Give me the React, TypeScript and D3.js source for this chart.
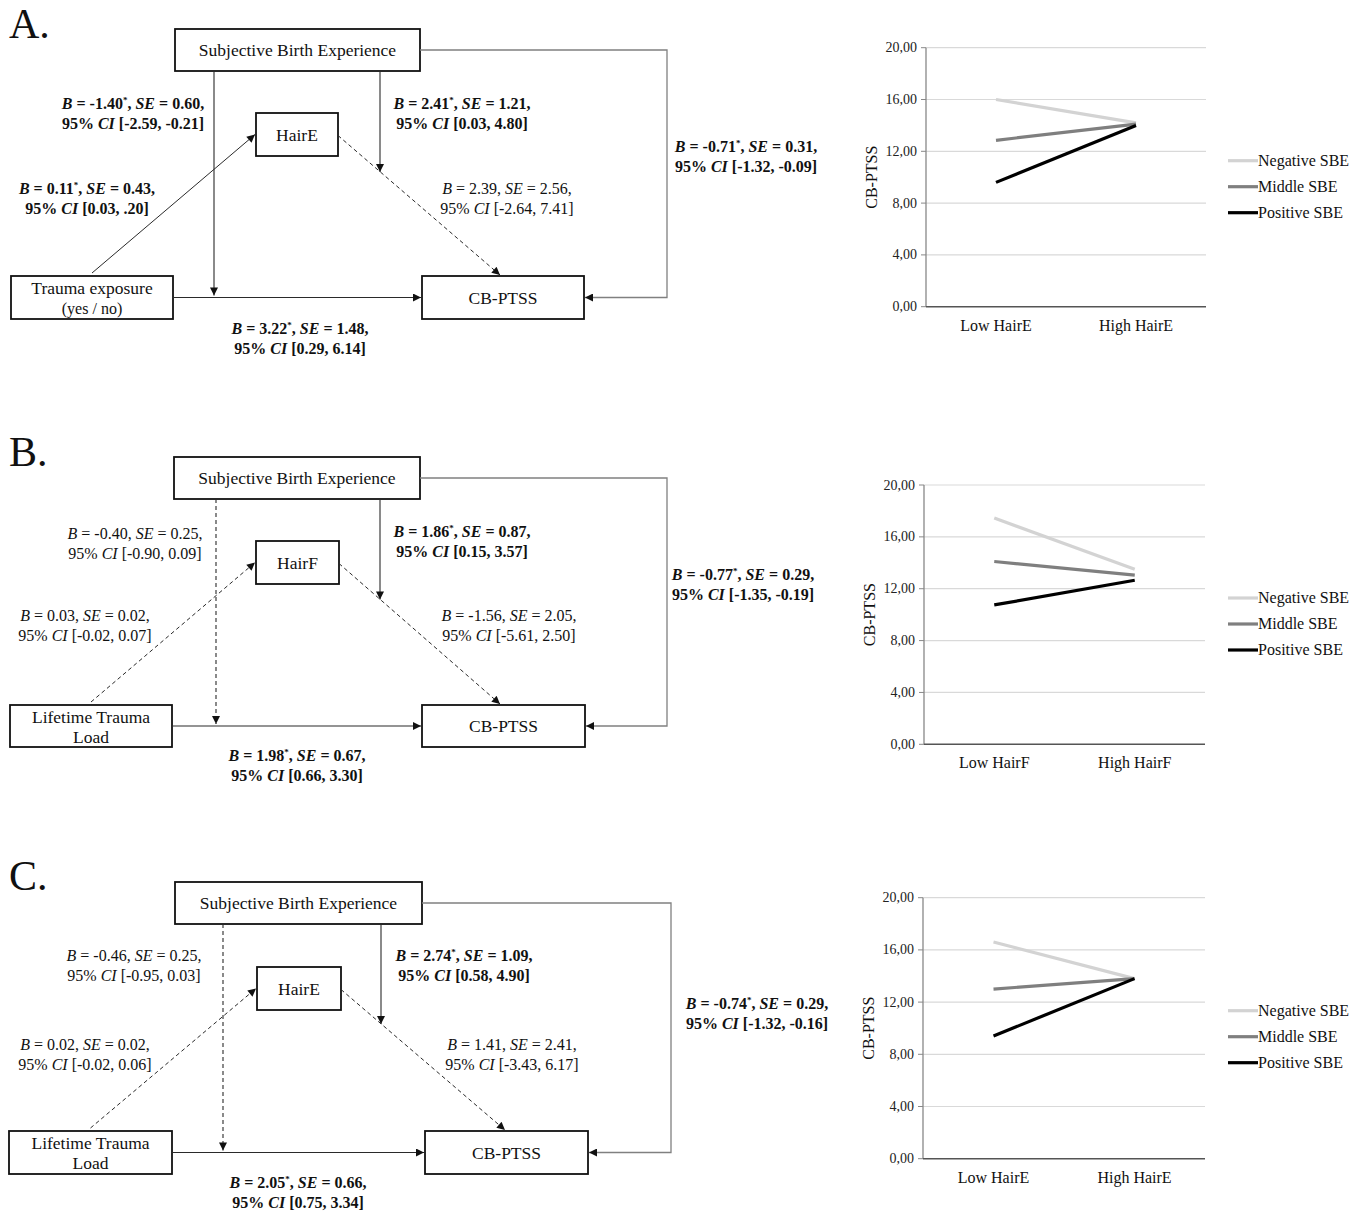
import * as d3 from 'd3';

// ---- chart data ----
const seriesNames = ['Negative SBE', 'Middle SBE', 'Positive SBE'];
const seriesColors = ['#d3d3d3', '#7f7f7f', '#000000'];
const yTicks = [0, 4, 8, 12, 16, 20];

const categoriesA = ['Low HairE', 'High HairE'];
const categoriesB = ['Low HairF', 'High HairF'];
const categoriesC = ['Low HairE', 'High HairE'];

const valuesA = [[16.0, 14.2], [12.85, 14.1], [9.6, 14.0]];
const valuesB = [[17.45, 13.5], [14.1, 13.05], [10.75, 12.65]];
const valuesC = [[16.6, 13.8], [13.0, 13.8], [9.4, 13.8]];

// ---- diagram texts ----
const mediatorNames = ['HairE', 'HairF', 'HairE'];
const predictorNames = [['Trauma exposure', '(yes / no)'], ['Lifetime Trauma', 'Load'], ['Lifetime Trauma', 'Load']];

// order: moderation on c (left), moderation on b, a path, b path, direct SBE, c path
const labelsA = [
  { b: '-1.40', sig: true, se: '0.60', ci: '[-2.59, -0.21]' },
  { b: '2.41', sig: true, se: '1.21', ci: '[0.03, 4.80]' },
  { b: '0.11', sig: true, se: '0.43', ci: '[0.03, .20]' },
  { b: '2.39', sig: false, se: '2.56', ci: '[-2.64, 7.41]' },
  { b: '-0.71', sig: true, se: '0.31', ci: '[-1.32, -0.09]' },
  { b: '3.22', sig: true, se: '1.48', ci: '[0.29, 6.14]' },
];
const labelsB = [
  { b: '-0.40', sig: false, se: '0.25', ci: '[-0.90, 0.09]' },
  { b: '1.86', sig: true, se: '0.87', ci: '[0.15, 3.57]' },
  { b: '0.03', sig: false, se: '0.02', ci: '[-0.02, 0.07]' },
  { b: '-1.56', sig: false, se: '2.05', ci: '[-5.61, 2.50]' },
  { b: '-0.77', sig: true, se: '0.29', ci: '[-1.35, -0.19]' },
  { b: '1.98', sig: true, se: '0.67', ci: '[0.66, 3.30]' },
];
const labelsC = [
  { b: '-0.46', sig: false, se: '0.25', ci: '[-0.95, 0.03]' },
  { b: '2.74', sig: true, se: '1.09', ci: '[0.58, 4.90]' },
  { b: '0.02', sig: false, se: '0.02', ci: '[-0.02, 0.06]' },
  { b: '1.41', sig: false, se: '2.41', ci: '[-3.43, 6.17]' },
  { b: '-0.74', sig: true, se: '0.29', ci: '[-1.32, -0.16]' },
  { b: '2.05', sig: true, se: '0.66', ci: '[0.75, 3.34]' },
];

const FONT = '"Liberation Serif", "Times New Roman", serif';

type Box = [number, number, number, number];

const layouts = [
  {
    letter: 'A.', letterY: 38,
    sbe: [175, 29, 245, 42] as Box, med: [256, 113, 82, 43] as Box,
    xb: [11, 276, 162, 43] as Box, yb: [422, 276, 162, 43] as Box,
    routeX: 667, leftV: 214, rightV: 380, bTarget: 500,
    dashLeft: false, dashA: false,
    labelPos: [[133, 109], [462, 109], [87, 194], [507, 194], [746, 152], [300, 334]],
  },
  {
    letter: 'B.', letterY: 466,
    sbe: [174, 457, 246, 42] as Box, med: [256, 541, 83, 43] as Box,
    xb: [10, 705, 162, 42] as Box, yb: [422, 705, 163, 42] as Box,
    routeX: 667, leftV: 216, rightV: 380, bTarget: 500,
    dashLeft: true, dashA: true,
    labelPos: [[135, 539], [462, 537], [85, 621], [509, 621], [743, 580], [297, 761]],
  },
  {
    letter: 'C.', letterY: 890,
    sbe: [175, 882, 247, 42] as Box, med: [257, 967, 84, 43] as Box,
    xb: [9, 1131, 163, 43] as Box, yb: [425, 1131, 163, 43] as Box,
    routeX: 671, leftV: 223, rightV: 381, bTarget: 505,
    dashLeft: true, dashA: true,
    labelPos: [[134, 961], [464, 961], [85, 1050], [512, 1050], [757, 1009], [298, 1188]],
  },
];

const chartLayouts = [
  { x0: 926, x1: 1206, top: 47.7, bottom: 306.7 },
  { x0: 924, x1: 1205, top: 485, bottom: 744.3 },
  { x0: 923, x1: 1205, top: 897.7, bottom: 1158.7 },
];

const PathLabel = ({ l, cx, y, bold }: any) => (
  <text x={cx} y={y} textAnchor="middle" fontSize={16} fontWeight={bold ? 'bold' : 'normal'} fontFamily={FONT} fill="#111">
    <tspan x={cx} y={y}>
      <tspan fontStyle="italic">B</tspan>
      {` = ${l.b}`}
      {l.sig ? <tspan dy={-6} fontSize={9}>*</tspan> : null}
      <tspan dy={l.sig ? 6 : 0}>{', '}</tspan>
      <tspan fontStyle="italic">SE</tspan>
      {` = ${l.se},`}
    </tspan>
    <tspan x={cx} y={y + 20}>
      {'95% '}
      <tspan fontStyle="italic">CI</tspan>
      {` ${l.ci}`}
    </tspan>
  </text>
);

const Diagram = ({ lay, labels, mediator, predictor }: any) => {
  const { sbe, med, xb, yb } = lay;
  const cyX = xb[1] + xb[3] / 2;
  const cyY = yb[1] + yb[3] / 2;
  const medCy = med[1] + med[3] / 2;
  const sbeCy = sbe[1] + sbe[3] / 2;
  const sbeBottom = sbe[1] + sbe[3];
  // b path endpoints
  const bx1 = med[0] + med[2], by1 = medCy + 1, bx2 = lay.bTarget, by2 = yb[1];
  const t = (lay.rightV - bx1) / (bx2 - bx1);
  const rightVEnd = by1 + t * (by2 - by1);
  const ax1 = xb[0] + xb[2] / 2, ay1 = xb[1] - 3;
  const stroke = '#2a2a2a';
  const boxText = (b: Box, txt: string) => (
    <text x={b[0] + b[2] / 2} y={b[1] + b[3] / 2 + 6} textAnchor="middle" fontSize={17.5} fontFamily={FONT} fill="#111">{txt}</text>
  );
  const small = predictor[1].startsWith('(');
  return (
    <g>
      <text x={9} y={lay.letterY} fontSize={42} fontFamily={FONT} fill="#111">{lay.letter}</text>
      {[sbe, med, xb, yb].map((b: Box, i: number) => (
        <rect key={i} x={b[0]} y={b[1]} width={b[2]} height={b[3]} fill="white" stroke="#111" strokeWidth={1.8} />
      ))}
      {boxText(sbe, 'Subjective Birth Experience')}
      {boxText(med, mediator)}
      {boxText(yb, 'CB-PTSS')}
      <text x={xb[0] + xb[2] / 2} y={xb[1] + 18} textAnchor="middle" fontSize={17.5} fontFamily={FONT} fill="#111">{predictor[0]}</text>
      <text x={xb[0] + xb[2] / 2} y={xb[1] + 38} textAnchor="middle" fontSize={small ? 16 : 17.5} fontFamily={FONT} fill="#111">{predictor[1]}</text>

      {/* c path */}
      <line x1={xb[0] + xb[2]} y1={cyX} x2={yb[0] - 1} y2={cyX} stroke={stroke} strokeWidth={1.1} markerEnd="url(#arrow)" />
      {/* moderation of c */}
      <line x1={lay.leftV} y1={sbeBottom} x2={lay.leftV} y2={cyX - 2} stroke={stroke} strokeWidth={1.1}
        strokeDasharray={lay.dashLeft ? '4,3' : undefined} markerEnd="url(#arrow)" />
      {/* moderation of b */}
      <line x1={lay.rightV} y1={sbeBottom} x2={lay.rightV} y2={rightVEnd} stroke={stroke} strokeWidth={1.1} markerEnd="url(#arrow)" />
      {/* a path */}
      <line x1={ax1} y1={ay1} x2={med[0] - 1} y2={medCy} stroke={stroke} strokeWidth={1}
        strokeDasharray={lay.dashA ? '4,3' : undefined} markerEnd="url(#arrow)" />
      {/* b path */}
      <line x1={bx1} y1={by1} x2={bx2} y2={by2 - 1} stroke={stroke} strokeWidth={1} strokeDasharray="4,3" markerEnd="url(#arrow)" />
      {/* direct SBE -> CB-PTSS */}
      <polyline points={`${sbe[0] + sbe[2]},${sbeCy} ${lay.routeX},${sbeCy} ${lay.routeX},${cyY} ${yb[0] + yb[2] + 1},${cyY}`}
        fill="none" stroke="#808080" strokeWidth={1.3} markerEnd="url(#arrow)" />

      {labels.map((l: any, i: number) => (
        <PathLabel key={i} l={l} cx={lay.labelPos[i][0]} y={lay.labelPos[i][1]} bold={l.sig} />
      ))}
    </g>
  );
};

const LineChart = ({ cl, categories, values }: any) => {
  const y = d3.scaleLinear().domain([0, 20]).range([cl.bottom, cl.top]);
  const x = d3.scalePoint<string>().domain(categories).range([cl.x0, cl.x1]).padding(0.5);
  const line = d3.line<number>().x((_, i) => x(categories[i]) as number).y(d => y(d));
  const legendX = 1228;
  const legendY0 = cl.top + 113;
  return (
    <g fontFamily={FONT}>
      {yTicks.map(t => (
        <g key={t}>
          {t > 0 && <line x1={cl.x0} x2={cl.x1} y1={y(t)} y2={y(t)} stroke="#d9d9d9" strokeWidth={1.2} />}
          <line x1={cl.x0 - 5} x2={cl.x0} y1={y(t)} y2={y(t)} stroke="#888" strokeWidth={1} />
          <text x={cl.x0 - 9} y={y(t) + 4.5} textAnchor="end" fontSize={14} fill="#222">{d3.format('.2f')(t).replace('.', ',')}</text>
        </g>
      ))}
      <line x1={cl.x0} x2={cl.x0} y1={cl.top} y2={cl.bottom} stroke="#888" strokeWidth={1.3} />
      <line x1={cl.x0} x2={cl.x1} y1={cl.bottom} y2={cl.bottom} stroke="#555" strokeWidth={1.5} />
      {categories.map((c: string) => (
        <text key={c} x={x(c)} y={cl.bottom + 24} textAnchor="middle" fontSize={16} fill="#111">{c}</text>
      ))}
      <text transform={`translate(${cl.x0 - 49},${(cl.top + cl.bottom) / 2}) rotate(-90)`} textAnchor="middle" fontSize={16} fill="#111">CB-PTSS</text>
      {values.map((v: number[], i: number) => (
        <path key={i} d={line(v) as string} fill="none" stroke={seriesColors[i]} strokeWidth={3.2} />
      ))}
      {seriesNames.map((s, i) => (
        <g key={s}>
          <line x1={legendX} x2={legendX + 30} y1={legendY0 + i * 26} y2={legendY0 + i * 26} stroke={seriesColors[i]} strokeWidth={3.2} />
          <text x={legendX + 30} y={legendY0 + i * 26 + 5} fontSize={16} fill="#111">{s}</text>
        </g>
      ))}
    </g>
  );
};

export default function App() {
  const allLabels = [labelsA, labelsB, labelsC];
  const allCats = [categoriesA, categoriesB, categoriesC];
  const allVals = [valuesA, valuesB, valuesC];
  return (
    <svg width={1362} height={1211} style={{ position: 'absolute', left: 0, top: 0, background: 'white' }}>
      <defs>
        <marker id="arrow" viewBox="0 0 10 10" refX={10} refY={5} markerWidth={9} markerHeight={8}
          markerUnits="userSpaceOnUse" orient="auto">
          <path d="M0,0 L10,5 L0,10 z" fill="#111" />
        </marker>
      </defs>
      <rect width={1362} height={1211} fill="white" />
      {layouts.map((lay, i) => (
        <Diagram key={i} lay={lay} labels={allLabels[i]} mediator={mediatorNames[i]} predictor={predictorNames[i]} />
      ))}
      {chartLayouts.map((cl, i) => (
        <LineChart key={i} cl={cl} categories={allCats[i]} values={allVals[i]} />
      ))}
    </svg>
  );
}
